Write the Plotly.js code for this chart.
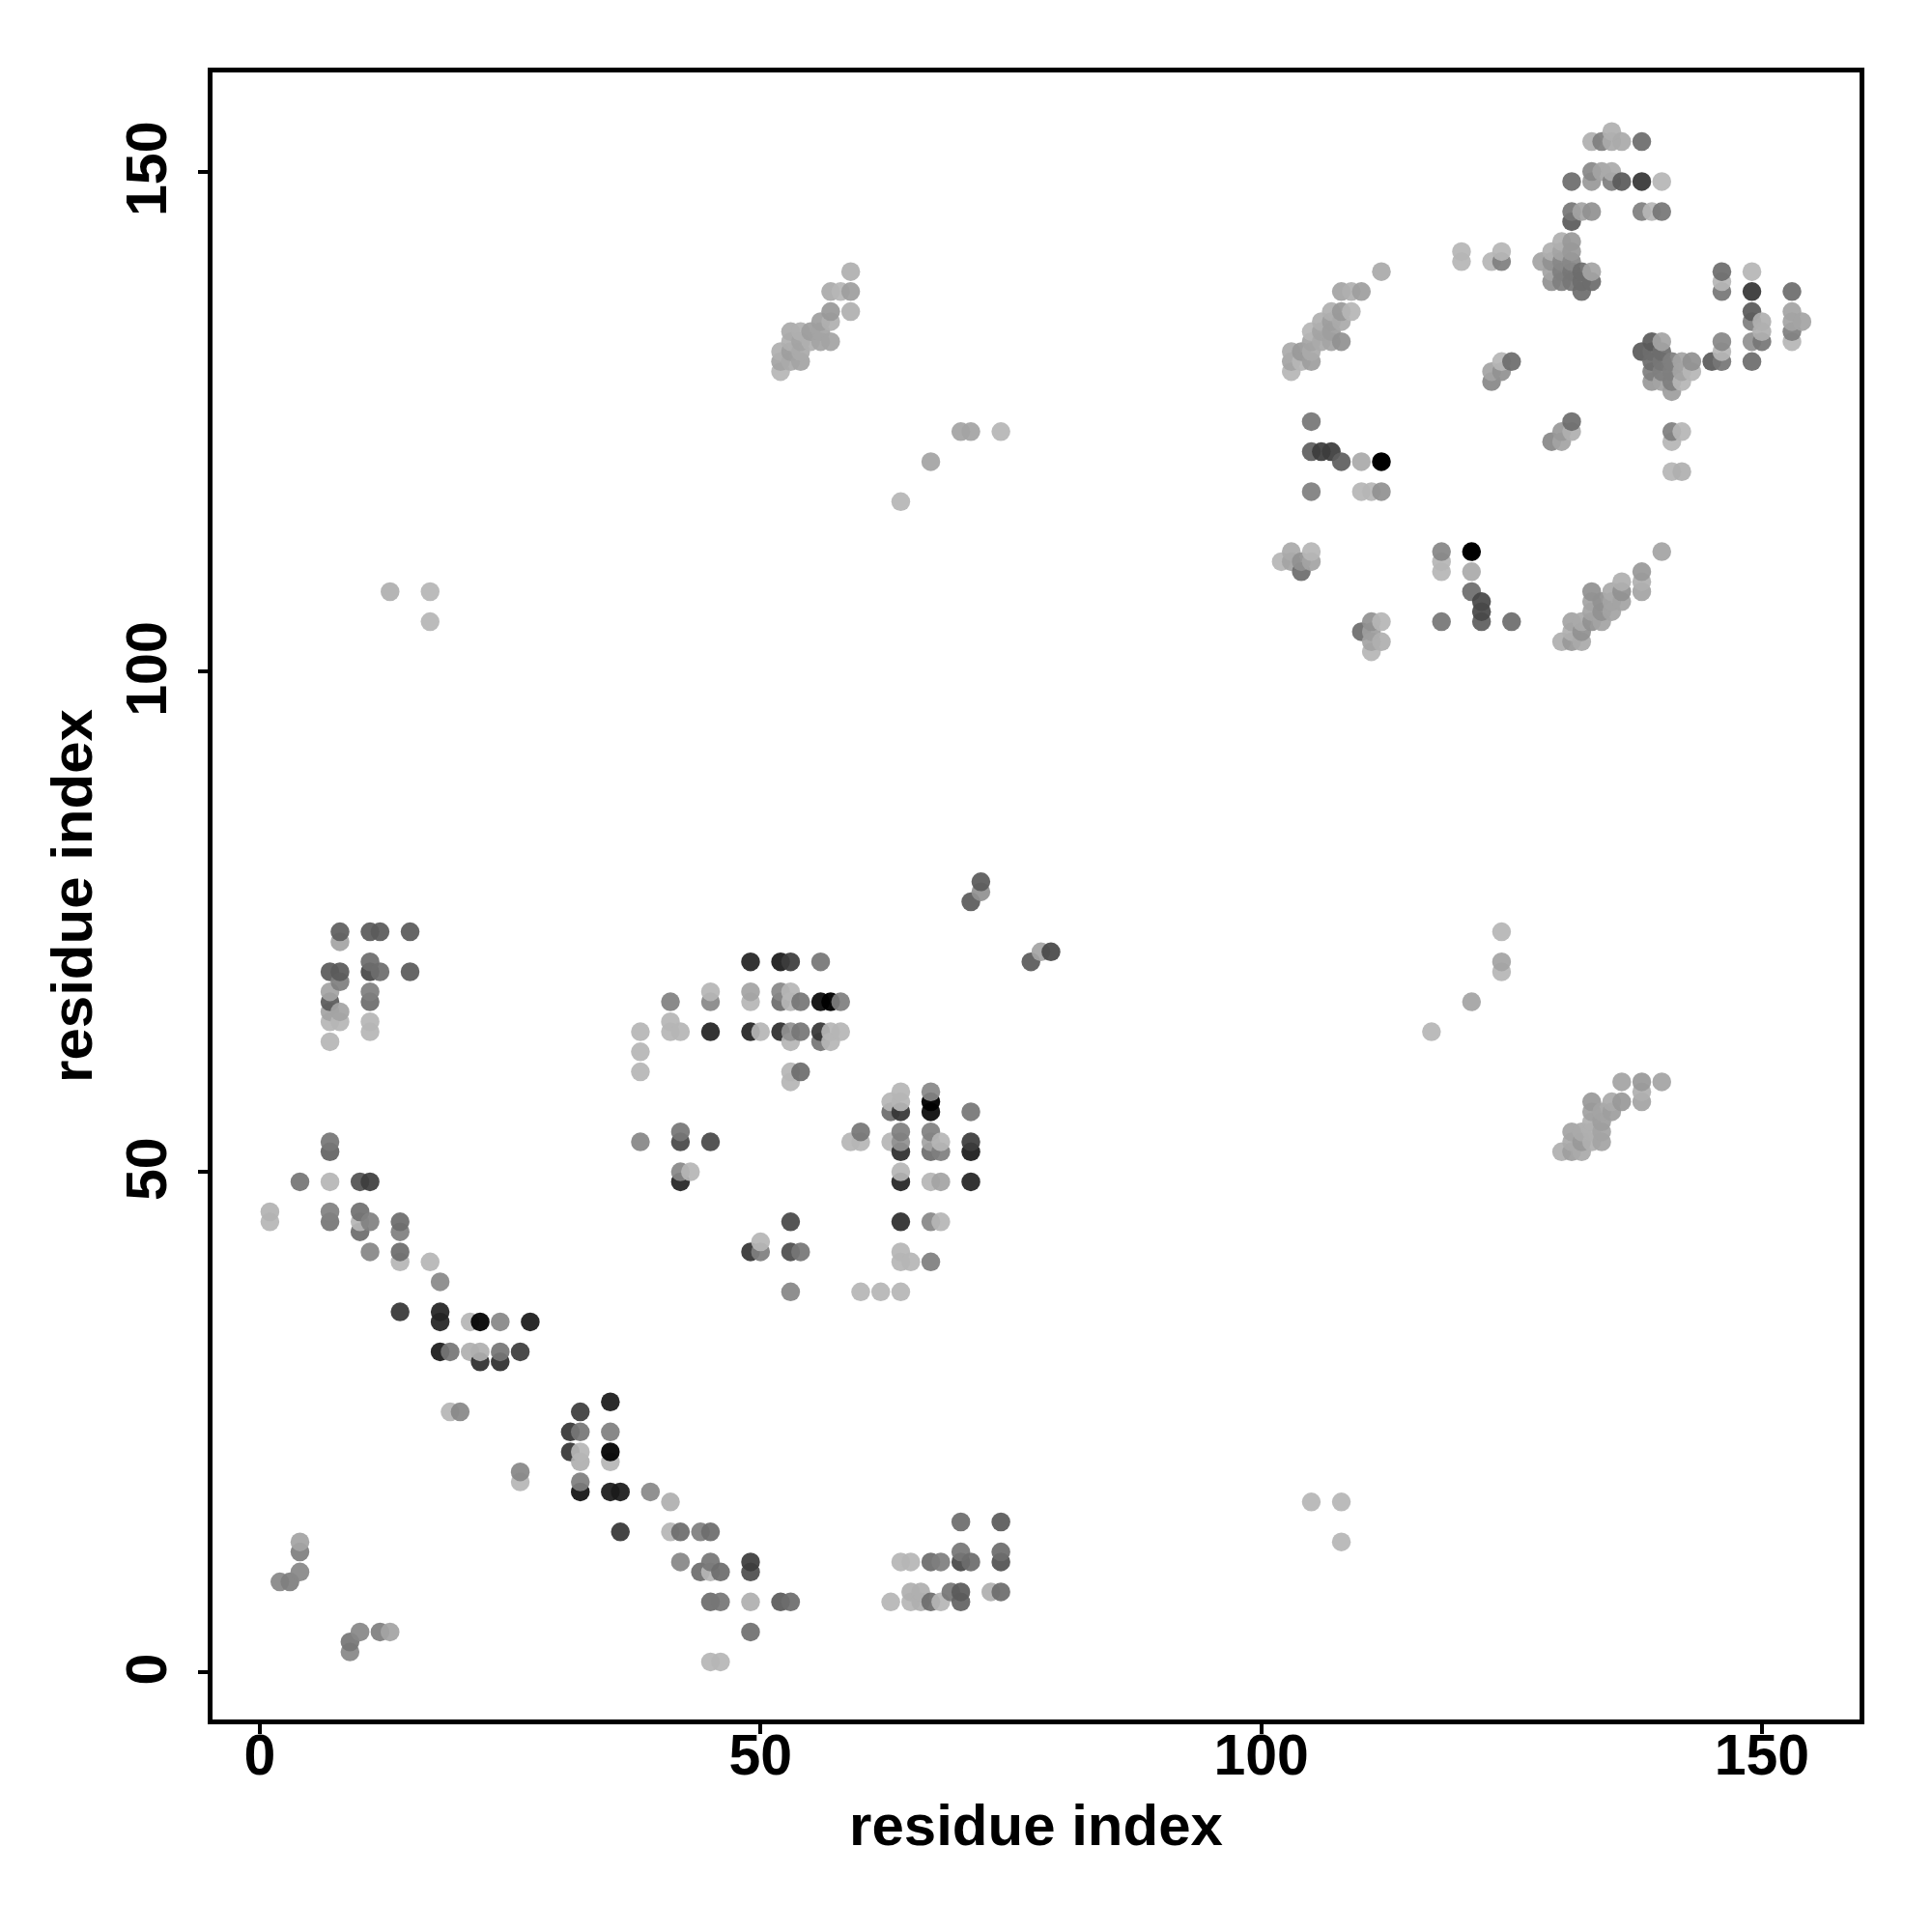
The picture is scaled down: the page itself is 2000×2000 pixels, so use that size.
<!DOCTYPE html>
<html><head><meta charset="utf-8">
<script src="https://cdn.plot.ly/plotly-3.0.1.min.js"></script>
<style>html,body{margin:0;padding:0;background:#fff}</style></head>
<body><div id="chart" style="width:2000px;height:2000px"></div>
<script>
const residueX = [
7,7,4,7,10,11,1,1,7,7,10,10,10,11,14,14,11,14,14,17,18,
14,18,18,21,22,24,27,18,19,21,22,22,24,24,26,19,20,32,35,
31,32,35,31,32,32,35,35,26,26,32,32,35,36,39,41,
36,41,42,44,45,4,4,4,2,3,42,44,45,45,46,49,49,45,46,49,52,53,49,45,46,10,9,9,12,13,
63,64,65,67,68,70,70,71,74,74,70,74,65,66,65,66,67,68,69,70,70,73,74,
49,52,53,56,38,38,38,41,45,45,49,49,52,52,53,53,54,56,57,58,
41,41,42,45,49,50,52,53,53,54,56,56,57,57,58,53,53,54,
64,63,64,63,64,67,67,67,71,38,42,42,45,60,59,60,
63,64,64,64,67,67,67,68,68,71,71,42,42,43,64,64,67,68,71,
53,64,67,68,49,50,50,53,54,64,64,65,67,53,60,62,64,
8,8,11,12,15,7,8,8,11,11,12,15,7,7,7,7,8,8,7,11,11,11,11,
77,78,79,71,72,72,13,17,17,64,67,70,71,74,105,108,108,117,121,124,124,124,
136,138,140,138,138,133,135,136,133,134,135,133,134,134,133,134,133,131,132,131,132,130,131,132,
112,108,109,110,107,108,109,106,107,108,105,106,107,105,106,107,108,103,104,105,103,104,105,103,
120,120,123,124,124,123,123,124,124,125,
59,57,58,59,59,57,57,56,55,56,53,54,53,54,55,56,57,52,53,54,52,53,54,52,
135,133,134,135,136,138,131,133,133,134,135,135,136,138,140,131,132,133,131,138,139,140,
130,131,129,130,131,128,129,130,131,129,130,131,132,133,129,130,131,132,133,132,
146,146,146,149,149,149,149,150,150,150,149,149,153,153,153,153,153,154,
146,146,146,145,139,140,138,139,140,139,140,141,142,143,139,140,141,142,143,139,140,141,142,141,
141,142,141,141,142,105,105,106,107,108,110,112,105,110,111,112,
131,130,131,129,130,103,105,102,103,104,105,104,
118,118,118,121,121,121,122,122,122,118,125,112,111,110,111,111,112,111,
140,138,138,138,136,136,136,135,135,135,133,133,134,134,133,134,133,131,132,131,132,132,131,130
];
const residueY = [
53,52,49,49,49,49,46,45,46,45,46,45,44,45,45,44,42,42,41,41,39,
36,36,35,35,35,35,35,32,32,32,32,31,32,31,32,26,26,26,27,
24,24,24,22,22,21,22,21,20,19,19,18,18,18,18,17,
14,14,14,14,14,13,12,10,9,9,11,10,11,10,10,11,10,7,7,7,7,7,4,1,1,4,3,2,4,4,
7,11,11,11,11,11,12,11,12,11,15,15,8,8,7,7,7,7,8,8,7,8,8,
71,71,71,71,64,62,60,67,68,67,68,67,68,67,68,67,67,67,67,67,
65,64,64,64,64,64,64,64,63,64,64,63,64,63,64,60,59,60,
58,57,57,56,56,58,57,56,56,53,54,53,53,54,53,53,
53,54,53,52,54,53,52,53,52,53,52,50,49,50,50,49,49,49,49,
45,45,45,45,42,43,42,42,42,42,41,41,41,38,38,38,38,
74,73,74,74,74,70,70,69,71,70,70,70,68,67,66,65,66,65,63,68,67,65,64,
71,72,72,77,78,79,108,108,105,117,121,124,124,124,17,17,13,64,67,74,71,70,
59,59,59,58,57,57,57,57,56,56,56,55,55,54,54,53,53,54,54,53,53,52,52,52,
140,138,138,138,136,136,136,135,135,135,134,134,134,133,133,133,133,132,132,132,131,131,131,130,
142,141,141,142,141,130,129,131,130,131,
140,138,138,138,136,136,135,135,134,134,134,134,133,133,133,133,133,132,132,132,131,131,131,130,
154,153,153,153,153,153,149,150,149,150,150,149,149,149,149,146,146,146,145,146,146,146,
143,143,142,142,142,141,141,141,141,140,140,140,140,140,139,139,139,139,139,138,
140,139,138,140,138,136,135,135,134,133,133,131,138,136,135,134,133,135,
133,132,131,131,133,133,132,132,132,131,131,131,131,131,130,130,130,130,130,129,129,129,129,128,
124,124,123,120,120,125,122,122,122,121,121,121,118,118,118,118,
125,124,124,123,123,112,112,111,111,111,111,110,
112,111,110,112,110,108,107,106,105,105,105,105,105,104,104,103,103,102,
112,110,109,108,109,108,107,108,107,106,108,107,107,106,106,105,105,105,105,104,104,103,103,103
];
const greyLevel = [
128,110,127,187,94,75,184,187,138,128,122,187,119,138,119,136,143,119,187,187,145,
68,51,51,187,17,144,42,42,128,181,181,60,128,60,74,187,144,74,42,
68,128,136,68,187,181,17,187,144,187,136,34,42,42,145,181,
68,187,119,136,119,170,136,144,144,136,143,119,128,187,119,74,90,119,128,181,102,119,122,187,187,144,128,144,136,170,
187,187,187,119,136,85,128,119,119,95,119,102,181,181,187,181,119,187,128,102,110,181,119,
51,42,74,128,187,187,187,138,187,144,170,187,144,119,187,187,128,26,10,136,
187,187,187,51,51,187,60,153,187,128,68,128,187,187,187,187,187,119,
187,187,187,119,68,144,10,26,128,143,128,85,85,128,187,187,
187,136,153,60,138,170,119,187,136,74,42,144,51,187,187,51,187,170,51,
85,60,144,187,68,187,136,90,128,187,187,187,136,143,187,187,187,
106,170,102,102,102,102,102,136,119,85,119,102,170,102,170,187,170,187,187,136,119,187,187,
102,170,85,102,153,102,181,187,187,187,170,170,170,187,187,187,187,187,170,187,170,187,
170,160,170,181,170,160,176,160,168,170,165,181,165,170,181,170,181,170,176,176,160,181,165,176,
176,170,181,165,181,160,187,181,165,176,187,170,165,170,176,170,153,176,160,176,170,187,165,187,
187,187,187,187,136,170,144,187,153,119,
181,176,187,165,181,160,181,165,165,170,176,181,181,170,181,170,170,181,165,176,170,176,170,187,
181,181,136,176,176,119,119,144,160,170,176,136,102,68,187,128,170,153,102,136,187,128,
181,160,181,170,160,170,153,144,144,170,136,128,119,170,153,136,128,119,119,119,
119,187,128,187,68,102,136,181,181,128,153,119,119,170,170,136,187,170,
144,187,128,102,102,170,102,119,119,119,128,136,170,153,136,136,136,170,187,160,170,136,187,165,
136,187,187,187,181,128,106,74,74,106,176,0,136,187,187,153,
119,160,181,144,170,176,187,187,170,153,170,119,
143,187,187,0,176,119,85,85,106,128,119,187,153,119,165,170,181,187,
170,160,181,170,181,153,170,176,170,170,153,170,153,153,170,170,153,170,176,181,153,176,160,181
];
const tickValues = [0, 50, 100, 150];
const tickLabels = ["0", "50", "100", "150"];
const axisLabel = "residue index";

const ALPHA = 0.93;
function shadeColor(c){
  let a = ALPHA, g = (c - 255*(1-a))/a;
  if (g < 0){ g = 0; a = 1 - c/255; }
  g = Math.round(g);
  return `rgba(${g},${g},${g},${a.toFixed(3)})`;
}
const order = residueX.map((_,i)=>i).sort((p,q)=> residueX[p]-residueX[q] || residueY[p]-residueY[q]);
const tickFont = {family:'"Liberation Sans", Arial, sans-serif', size:59, color:'#000', weight:700};
const titleFont = {family:'"Liberation Sans", Arial, sans-serif', size:60, color:'#000', weight:700};
function axis(extra){
  return Object.assign({
    autorange:false, tickmode:'array', tickvals:tickValues, ticktext:tickLabels,
    ticks:'outside', ticklen:10, tickwidth:4, tickcolor:'#000',
    showline:true, mirror:true, linewidth:5, linecolor:'#000',
    showgrid:false, zeroline:false, tickfont:tickFont
  }, extra);
}
Plotly.newPlot('chart',[{
  type:'scatter', mode:'markers',
  x:order.map(i=>residueX[i]), y:order.map(i=>residueY[i]),
  marker:{size:19.5, color:order.map(i=>shadeColor(greyLevel[i])), line:{width:0}},
  hoverinfo:'skip', cliponaxis:true
}],{
  width:2000,height:2000,
  paper_bgcolor:'#fff',plot_bgcolor:'#fff',showlegend:false,
  margin:{l:220,r:75,t:75,b:220,autoexpand:false},
  xaxis:axis({range:[-4.73,159.75],title:{text:axisLabel,font:titleFont,standoff:21},ticklabelstandoff:-29}),
  yaxis:axis({range:[-4.75,159.91],title:{text:axisLabel,font:titleFont,standoff:6},tickangle:-90,ticklabelstandoff:9,ticklabelshift:6})
},{displayModeBar:false,staticPlot:true});
</script></body></html>
